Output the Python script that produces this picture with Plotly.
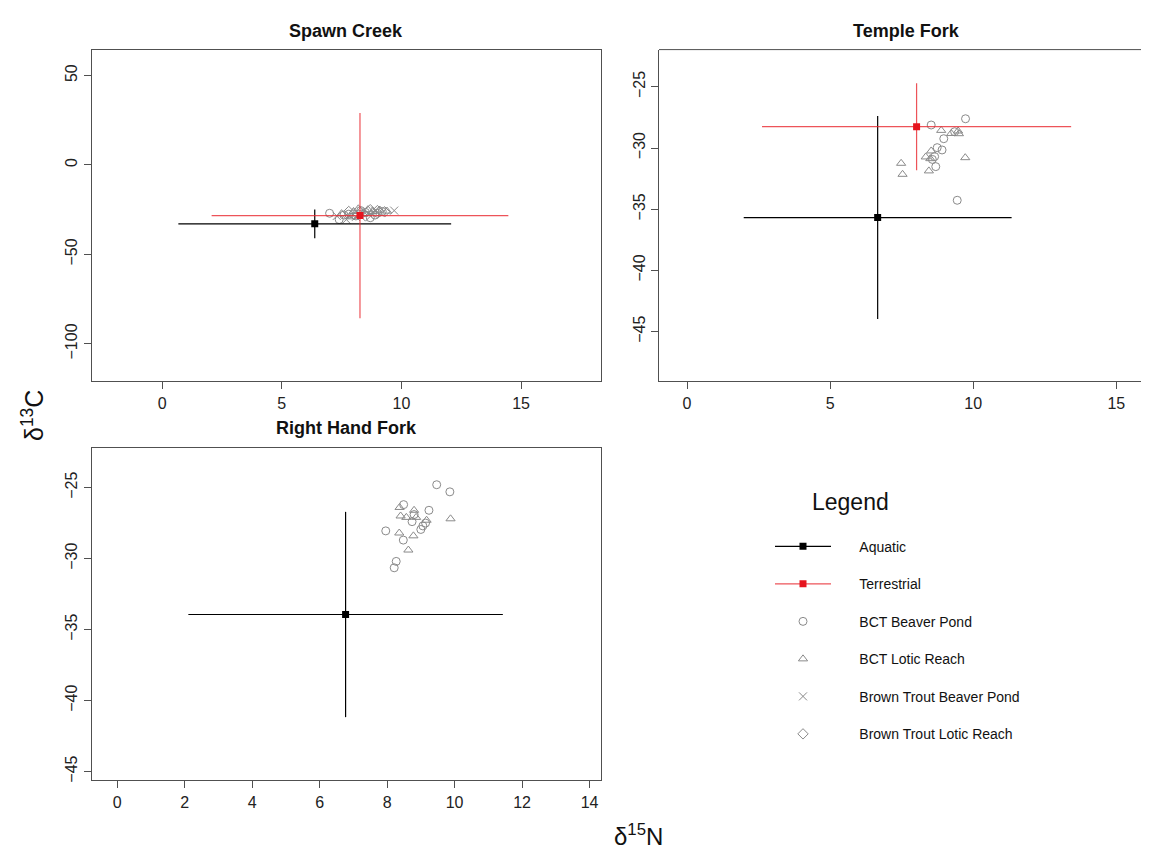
import plotly.graph_objects as go

# ---------------- data ----------------
# Source means and SD (d15N, d13C)
aq_sites = ["Spawn Creek", "Temple Fork", "Right Hand Fork"]
aq_n = [6.38, 6.66, 6.77]
aq_c = [-32.9, -35.68, -33.94]
aq_n_sd = [5.7, 4.68, 4.66]
aq_c_sd = [8.0, 8.3, 7.23]

ter_sites = ["Spawn Creek", "Temple Fork"]
ter_n = [8.27, 8.02]
ter_c = [-28.3, -28.26]
ter_n_sd = [6.2, 5.4]
ter_c_sd = [57.4, 3.55]

# Spawn Creek fish
sc_bp_n = [7.0, 7.4, 7.8, 8.1, 8.5, 8.7, 9.0, 8.3, 7.6, 8.9, 9.2]
sc_bp_c = [-27.0, -30.5, -27.5, -28.5, -26.5, -29.5, -27.0, -25.5, -28.0, -28.0, -26.0]
sc_lr_n = [7.5, 8.0, 8.2, 8.6, 8.8, 9.1, 9.4, 7.9, 8.4]
sc_lr_c = [-27.2, -26.0, -24.5, -25.0, -26.0, -25.2, -25.8, -29.0, -27.5]
sc_btbp_n = [7.7, 8.1, 8.6, 9.7, 7.3, 8.9]
sc_btbp_c = [-30.5, -29.0, -27.0, -25.5, -28.5, -25.5]
sc_btlr_n = [8.0, 8.3, 8.7, 9.0, 9.3, 8.5, 7.8]
sc_btlr_c = [-27.5, -26.5, -25.0, -25.5, -26.2, -28.5, -26.0]

# Temple Fork fish
tf_bp_n = [8.53, 9.73, 8.97, 9.35, 8.74, 8.91, 8.65, 8.57, 8.69, 9.44]
tf_bp_c = [-28.12, -27.61, -29.24, -28.67, -29.97, -30.16, -30.70, -30.93, -31.52, -34.27]
tf_lr_n = [8.88, 9.23, 9.47, 9.50, 9.72, 7.48, 7.53, 8.45, 8.34, 8.50, 8.53]
tf_lr_c = [-28.56, -28.81, -28.61, -28.83, -30.79, -31.25, -32.15, -31.87, -30.73, -30.87, -30.24]

# Right Hand Fork fish
rh_bp_n = [9.47, 9.86, 8.49, 9.24, 7.96, 8.48, 8.74, 9.00, 8.27, 8.21, 8.80, 9.06, 9.14]
rh_bp_c = [-24.8, -25.3, -26.2, -26.6, -28.05, -28.7, -27.4, -27.95, -30.2, -30.65, -26.9, -27.7, -27.5]
rh_lr_n = [8.37, 8.40, 8.57, 8.80, 8.86, 9.17, 9.88, 8.36, 8.78, 8.63]
rh_lr_c = [-26.4, -27.0, -27.1, -26.6, -27.1, -27.3, -27.2, -28.2, -28.4, -29.4]

legend_names = ["Aquatic", "Terrestrial", "BCT Beaver Pond", "BCT Lotic Reach",
                "Brown Trout Beaver Pond", "Brown Trout Lotic Reach"]

# ---------------- styling ----------------
FONT = "Liberation Sans, Arial, Helvetica, sans-serif"
GRAY = "rgb(138,138,138)"
BLACK = "rgb(0,0,0)"
RED_LINE = "rgba(232,40,48,0.8)"
RED = "rgb(230,20,30)"
FRAME = "rgb(80,80,80)"
NB = "\u00a0"

W, H = 1149, 848

fig = go.Figure()


def fish(x, y, symbol, ax):
    fig.add_trace(go.Scatter(
        x=x, y=y, mode="markers", showlegend=False, hoverinfo="skip",
        xaxis="x" + ax, yaxis="y" + ax,
        marker=dict(symbol=symbol, size=8, color=GRAY,
                    line=dict(color=GRAY, width=1))))


def source(n, c, nsd, csd, lcol, mcol, ax):
    fig.add_trace(go.Scatter(
        x=[n], y=[c], mode="markers", showlegend=False, hoverinfo="skip",
        xaxis="x" + ax, yaxis="y" + ax,
        marker=dict(symbol="square", size=7, color=mcol),
        error_x=dict(type="data", array=[nsd], color=lcol, thickness=1.2, width=0),
        error_y=dict(type="data", array=[csd], color=lcol, thickness=1.2, width=0)))


axes = {"Spawn Creek": "", "Temple Fork": "2", "Right Hand Fork": "3"}

# Spawn Creek
fish(sc_bp_n, sc_bp_c, "circle-open", "")
fish(sc_lr_n, sc_lr_c, "triangle-up-open", "")
fish(sc_btbp_n, sc_btbp_c, "x-thin-open", "")
fish(sc_btlr_n, sc_btlr_c, "diamond-open", "")
# Temple Fork
fish(tf_bp_n, tf_bp_c, "circle-open", "2")
fish(tf_lr_n, tf_lr_c, "triangle-up-open", "2")
# Right Hand Fork
fish(rh_bp_n, rh_bp_c, "circle-open", "3")
fish(rh_lr_n, rh_lr_c, "triangle-up-open", "3")

for s, n, c, ns, cs in zip(aq_sites, aq_n, aq_c, aq_n_sd, aq_c_sd):
    source(n, c, ns, cs, BLACK, BLACK, axes[s])
for s, n, c, ns, cs in zip(ter_sites, ter_n, ter_c, ter_n_sd, ter_c_sd):
    source(n, c, ns, cs, RED_LINE, RED, axes[s])

# legend entries
leg_styles = [
    dict(mode="lines+markers", line=dict(color=BLACK, width=1.2),
         marker=dict(symbol="square", size=7, color=BLACK)),
    dict(mode="lines+markers", line=dict(color=RED_LINE, width=1.2),
         marker=dict(symbol="square", size=7, color=RED)),
    dict(mode="markers", marker=dict(symbol="circle-open", size=8, color=GRAY, line=dict(width=1))),
    dict(mode="markers", marker=dict(symbol="triangle-up-open", size=8, color=GRAY, line=dict(width=1))),
    dict(mode="markers", marker=dict(symbol="x-thin-open", size=8, color=GRAY, line=dict(width=1, color=GRAY))),
    dict(mode="markers", marker=dict(symbol="diamond-open", size=8, color=GRAY, line=dict(width=1))),
]
for i, (name, st) in enumerate(zip(legend_names, leg_styles)):
    fig.add_trace(go.Scatter(x=[None], y=[None], name=NB * 6 + name, legendgroup=f"g{i}",
                             showlegend=True, **st))


def fx(px):
    return px / W


def fy(py):
    return 1 - py / H


axis_common = dict(showline=True, linecolor=FRAME, linewidth=1,
                   ticks="outside", ticklen=7, tickcolor=FRAME, tickwidth=1,
                   showgrid=False, zeroline=False,
                   tickfont=dict(family=FONT, size=16, color="#222"))

fig.update_layout(
    width=W, height=H, margin=dict(l=0, r=0, t=0, b=0),
    paper_bgcolor="white", plot_bgcolor="white",
    font=dict(family=FONT, color="#111"),
    xaxis=dict(domain=[fx(83.5), fx(592.7)], range=[-2.95, 18.33], mirror=True,
               tickvals=[0, 5, 10, 15], anchor="y", **axis_common),
    yaxis=dict(domain=[fy(374.3), fy(41.7)], range=[-121, 64.5], mirror=True,
               tickvals=[-100, -50, 0, 50], tickangle=-90, anchor="x", **axis_common),
    xaxis2=dict(domain=[fx(651), 1.0], range=[-0.98, 16.42], mirror=False,
                tickvals=[0, 5, 10, 15], anchor="y2", **axis_common),
    yaxis2=dict(domain=[fy(374.3), fy(41.7)], range=[-49.07, -21.96], mirror=False,
                tickvals=[-45, -40, -35, -30, -25], tickangle=-90, anchor="x2", **axis_common),
    xaxis3=dict(domain=[fx(83.5), fx(592.7)], range=[-0.76, 14.33], mirror=True,
                tickvals=[0, 2, 4, 6, 8, 10, 12, 14], anchor="y3", **axis_common),
    yaxis3=dict(domain=[fy(774.3), fy(441)], range=[-45.63, -22.21], mirror=True,
                tickvals=[-45, -40, -35, -30, -25], tickangle=-90, anchor="x3", **axis_common),
    legend=dict(x=fx(762), y=fy(524), xanchor="left", yanchor="top",
                bgcolor="rgba(0,0,0,0)", tracegroupgap=16.3, itemwidth=56,
                font=dict(family=FONT, size=14, color="#111")),
)

# top border of the Temple Fork panel (its right side runs off the page)
fig.add_shape(type="line", xref="x2 domain", yref="y2 domain", x0=0, x1=1, y0=1, y1=1,
              line=dict(color=FRAME, width=1))

titles = [("Spawn Creek", (83.5 + 592.7) / 2, 23),
          ("Temple Fork", 899, 23),
          ("Right Hand Fork", (83.5 + 592.7) / 2, 421)]
for t, x, y in titles:
    fig.add_annotation(text=f"<b>{t}</b>", x=fx(x), y=fy(y), xref="paper", yref="paper",
                       showarrow=False, xanchor="center", yanchor="middle",
                       font=dict(family=FONT, size=18, color="#111"))

fig.add_annotation(text="Legend", x=fx(802), y=fy(495), xref="paper", yref="paper",
                   showarrow=False, xanchor="left", yanchor="middle",
                   font=dict(family=FONT, size=23, color="#111"))

fig.add_annotation(text="δ<sup>13</sup>C", x=fx(25), y=fy(409), xref="paper", yref="paper",
                   showarrow=False, textangle=-90, xanchor="center", yanchor="middle",
                   font=dict(family=FONT, size=25, color="#111"))
fig.add_annotation(text="δ<sup>15</sup>N", x=fx(630), y=fy(846), xref="paper", yref="paper",
                   showarrow=False, xanchor="center", yanchor="bottom",
                   font=dict(family=FONT, size=24, color="#111"))

fig.write_html("out.html")
